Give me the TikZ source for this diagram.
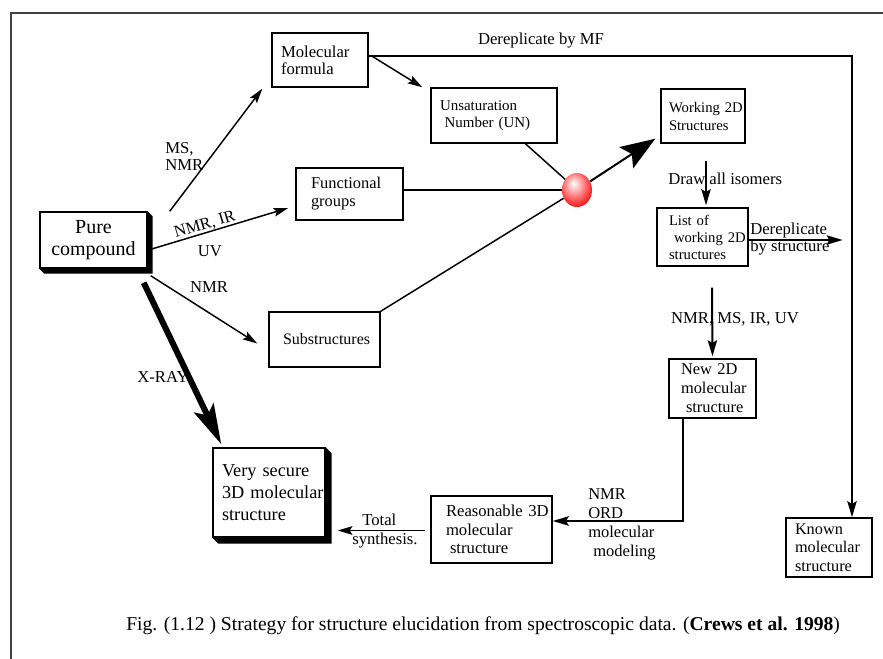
\documentclass[tikz,border=0pt]{standalone}
\usepackage{fontspec}
\setmainfont{Liberation Serif}
\usetikzlibrary{arrows.meta,calc,shapes.geometric}
\newcommand\setfs[2]{\fontsize{#1}{#2}\selectfont}
% glossy red sphere used as the junction point
\pgfdeclareradialshading{redsphere}{\pgfpoint{-6bp}{10bp}}{%
  color(0bp)=(white); color(10bp)=(red!30!white); color(32bp)=(red);
  color(48bp)=(red!85!black); color(60bp)=(red!85!black)}
\begin{document}
\hyphenpenalty=10000
\exhyphenpenalty=10000
\begin{tikzpicture}[x=0.75pt,y=-0.75pt,
  box/.style={draw,line width=1.1pt,fill=white,align=left,inner ysep=0pt,anchor=center},
  conn/.style={line width=1.1pt},
  thinarrow/.style={line width=1.1pt,-{Stealth[length=11pt,width=6.5pt,inset=2pt]}},
  midarrow/.style={line width=1.5pt,-{Stealth[length=12pt,width=7pt,inset=2pt]}},
  lbl/.style={inner sep=0pt,align=left,font=\setfs{12.5}{13}},
]
\useasboundingbox (0,0) rectangle (883,659);

% outer frame (top and left sides)
\draw[line width=1.6pt,black!75] (883,13) -- (11,13) -- (11,659);

% ---------- boxes ----------
\node[box,minimum width=72pt,minimum height=40.5pt,text width=58.5pt,inner xsep=6.75pt,
  font=\setfs{12.5}{12.75}] (molf) at (320,60) {Molecular\\formula};
\node[box,minimum width=94.5pt,minimum height=41.25pt,text width=81pt,inner xsep=6.75pt,
  font=\setfs{11.2}{13}] (unsat) at (494,115.5) {Unsaturation\\\hspace*{3.5pt}Number~(UN)};
\node[box,minimum width=63pt,minimum height=40.5pt,text width=51pt,inner xsep=6pt,
  font=\setfs{11}{13.5}] (work) at (703,116) {Working~2D\\Structures};
\node[box,minimum width=80.25pt,minimum height=39pt,text width=57.75pt,inner xsep=11.25pt,
  font=\setfs{12.3}{13.5}] (func) at (349.5,194) {Functional\\groups};
\node[box,minimum width=80.25pt,minimum height=42pt,text width=72.25pt,inner xsep=4pt,align=center,
  font=\setfs{15}{16.5}] (pure) at (93.5,240) {Pure\\compound};
\node[box,minimum width=83.25pt,minimum height=41.25pt,text width=62.25pt,inner xsep=10.5pt,
  font=\setfs{12}{13}] (subs) at (324.5,339.5) {Substructures};
\node[box,minimum width=68.25pt,minimum height=43.5pt,text width=50.25pt,inner xsep=9pt,
  font=\setfs{11}{12.75}] (list) at (702.5,237) {List~of\\\hspace*{3.75pt}working~2D\\structures};
\node[box,minimum width=65.25pt,minimum height=44.25pt,text width=47.25pt,inner xsep=9pt,
  font=\setfs{12.3}{14.25}] (new2d) at (712.5,388.5) {New~2D\\molecular\\\hspace*{3.75pt}structure};
\node[box,minimum width=84pt,minimum height=66.75pt,text width=70.5pt,inner xsep=6.75pt,
  font=\setfs{13.7}{16.5}] (secure) at (269,492.5) {Very~secure\\3D~molecular\\structure};
\node[box,minimum width=90.75pt,minimum height=50.25pt,text width=68.25pt,inner xsep=11.25pt,
  font=\setfs{12.5}{13.9}] (reas) at (491.5,529.5) {Reasonable~3D\\molecular\\\hspace*{3pt}structure};
\node[box,minimum width=64.5pt,minimum height=44.25pt,text width=51pt,inner xsep=6.75pt,
  font=\setfs{12.2}{13.9}] (known) at (829,547.5) {Known\\molecular\\structure};

% drop shadows of the two emphasised boxes
\fill (pure.north east) -- ++(5,5) -- ($(pure.south east)+(5,5)$) -- ($(pure.south west)+(5,5)$)
  -- (pure.south west) -- (pure.south east) -- cycle;
\fill (secure.north east) -- ++(6,6) -- ($(secure.south east)+(6,6)$) -- ($(secure.south west)+(6,6)$)
  -- (secure.south west) -- (secure.south east) -- cycle;

% junction sphere
\node[ellipse,minimum width=22.5pt,minimum height=25.5pt,inner sep=0pt,shading=redsphere] (ball) at (577,190) {};

% ---------- connectors ----------
\draw[thinarrow] ($(pure.north east)+(22,0)$) -- ($(molf.south west)+(-9,1)$);
\draw[thinarrow] ($(pure.east)+(4,9)$) -- ($(func.west)+(-7,14)$);
\draw[thinarrow] ($(pure.south east)+(3,7)$) -- ($(subs.west)+(-11,4)$);
\draw[line width=4.5pt,-{Stealth[length=30pt,width=16pt,inset=6pt]}]
  ($(pure.south east)+(-4,14)$) -- ($(secure.north west)+(9,-3)$);

\draw[thinarrow] ($(molf.east)+(3,-4)$) -- ($(unsat.north west)+(-8,0)$);
\coordinate (mfdown) at ($(known.north)+(23,0)$);
\draw[midarrow] ($(molf.east)+(0,-4)$) -| (mfdown);

\draw[conn] (unsat) -- (ball);
\draw[conn] (ball.west) -- (ball.west -| func.east);
\draw[conn] (subs.north east) -- (ball);
\draw[line width=1.5pt,-{Stealth[length=26pt,width=19pt,inset=5pt]}] (ball) -- ($(work.south west)+(-5,-5)$);

\draw[midarrow] ($(work.south)+(3,17)$) -- ($(list.north)+(3.5,-2)$);
\coordinate (dsend) at ($(list.east)+(94,3)$);
\draw[midarrow] ($(list.east)+(0,3)$) -- (dsend);
\draw[midarrow] ($(list.south)+(9.5,21)$) -- ($(new2d.north)+(0,-2)$);
\draw[midarrow] ($(new2d.south)+(-29.5,0)$) |- ($(reas.east)+(0,-8.5)$);
\draw[thinarrow] ($(reas.west)+(-5,1)$) -- ($(secure.east)+(12,38)$);

% ---------- labels ----------
\node[lbl,anchor=north west] (lmsnmr) at (165,142) {MS,\\NMR};
\node[lbl,rotate=16.5] (lnmrir) at (205,225) {NMR, IR};
\node[lbl] (luv) at (210,251) {UV};
\node[lbl] (lnmr) at (209,287) {NMR};
\node[lbl] (lxray) at (163,377) {X-RAY};
\node[lbl] (lmf) at (541,41) {Dereplicate by MF};
\node[lbl,anchor=west] (lisomers) at (668,179) {Draw all isomers};
\node[lbl,anchor=west] (ldstruct) at (750,239) {Dereplicate\\by structure};
\node[lbl] (lspec) at (735,319) {NMR, MS, IR, UV};
\node[lbl,anchor=north west,font=\setfs{12.4}{14.25}] (lord) at (588,488) {NMR\\ORD\\molecular\\\hspace*{3.75pt}modeling};
\node[lbl,anchor=west,font=\setfs{12.5}{14.5}] (lsynth) at (352,531) {\hspace*{7.5pt}Total\\synthesis.};

% caption
\node[inner sep=0pt,anchor=west,font=\setfs{14.7}{16}] (caption) at (126,626)
  {Fig. (1.12 ) Strategy for structure elucidation from spectroscopic data. (\textbf{Crews et al. 1998})};
\end{tikzpicture}
\end{document}
